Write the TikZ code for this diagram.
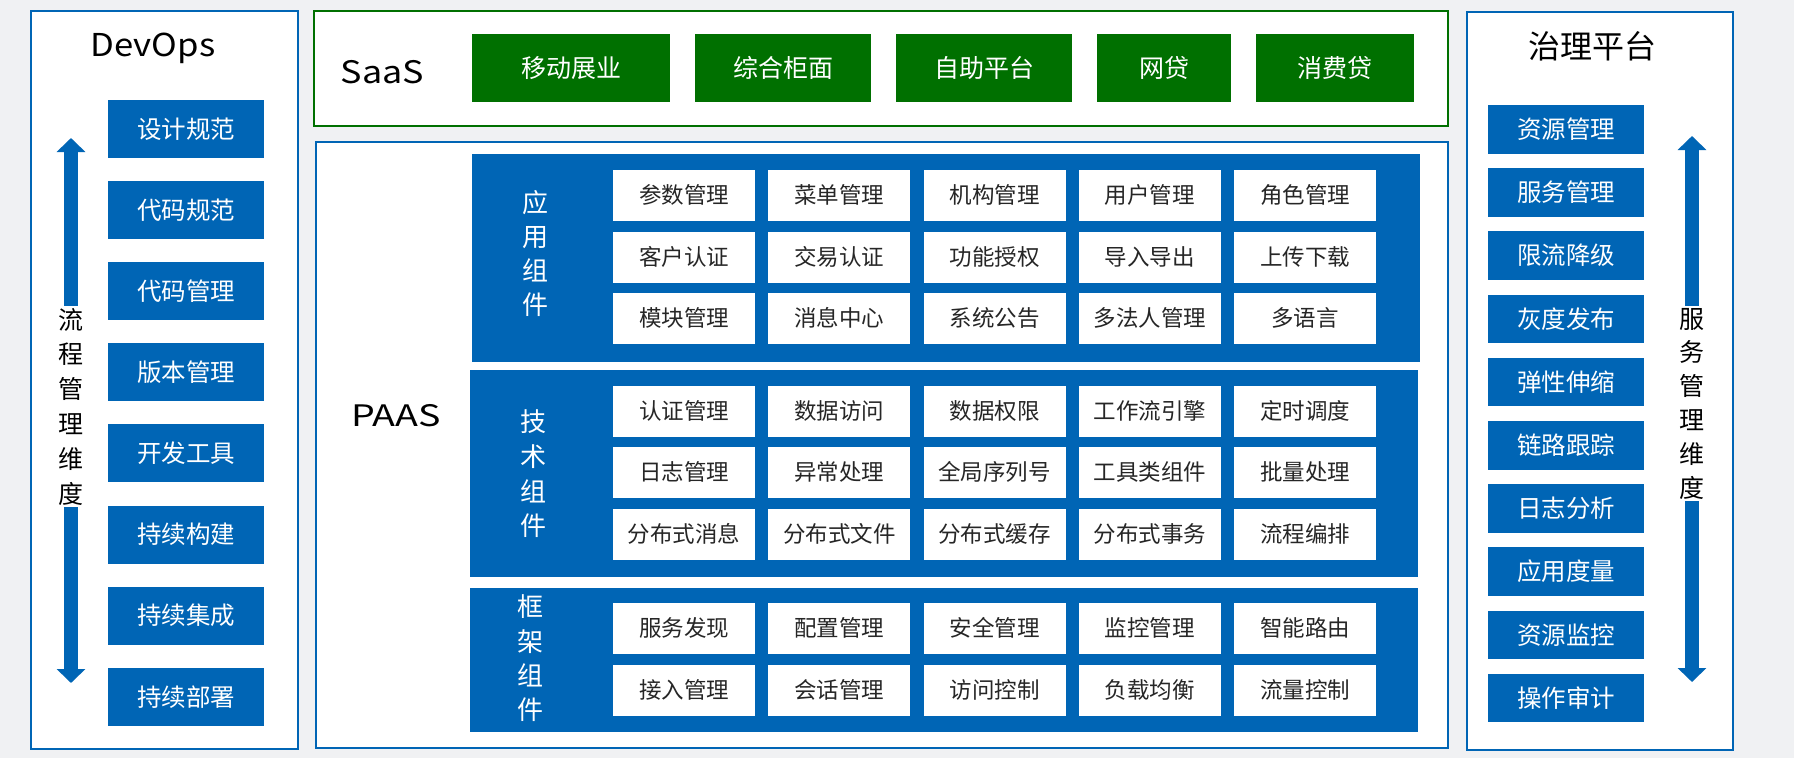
\documentclass[tikz,border=0pt]{standalone}
\usepackage{fontspec}
\newfontfamily\cjk{Noto Sans CJK SC}
\usetikzlibrary{arrows.meta,chains,positioning}
\definecolor{pblue}{RGB}{0,101,181}
\definecolor{sgreen}{RGB}{0,112,0}
\definecolor{bggray}{RGB}{240,241,243}
\newcommand\widetext[2]{\scalebox{#1}[1]{#2}}

\begin{document}
\begin{tikzpicture}[x=1pt, y=-1pt,
node distance=0pt,
    every node/.style = {font=\cjk},
    P/.style = {rectangle, draw=pblue, line width=2.7pt, fill=white,% outer panels
                outer sep=0pt, inner sep=0pt},
    S/.style = {rectangle, fill=pblue, inner sep=0pt, outer sep=0pt},% blue layers
    B/.style = {rectangle, fill=pblue, text=white, inner sep=0pt,% blue boxes in string (chain)
                minimum width=156pt, outer sep=0pt, anchor=north,
                font=\cjk\fontsize{24.5}{24.5}\selectfont, on chain},
    G/.style = {rectangle, fill=sgreen, text=white, inner sep=0pt,% green boxes in string (chain)
                minimum height=68pt, outer sep=0pt, anchor=west,
                font=\cjk\fontsize{25}{25}\selectfont, on chain},
    C/.style = {rectangle, fill=white, text=black!85, inner sep=0pt,% white cells in string (chain)
                minimum width=142pt, minimum height=51pt, outer sep=0pt, anchor=west,
                font=\cjk\fontsize{22.5}{22.5}\selectfont, on chain},
    T/.style = {font=\cjk\fontsize{31}{31}\selectfont, anchor=base},
    V/.style = {align=center, inner sep=2pt},
    AR/.style = {draw=pblue, line width=13.4pt, -{Triangle[width=28pt,length=14pt]}},
                        ]
\useasboundingbox[fill=bggray] (0,0) rectangle (1794,758);
% panels
\node[P, minimum width=267pt, minimum height=738pt] (devops) at (164.5,380) {};
\node[P, draw=sgreen, minimum width=1134pt, minimum height=115pt] (saas) at (881,68.5) {};
\node[P, minimum width=1132pt, minimum height=606pt] (paas) at (882,445) {};
\node[P, minimum width=266pt, minimum height=738pt] (gov) at (1600,381) {};
% titles
\node[T, font=\cjk\fontsize{31.5}{31.5}\selectfont] (tdev) at (153,56.7) {\widetext{1.1}{DevOps}};
\node[T] (tsaas) at (382.5,83) {\widetext{1.16}{SaaS}};
\node[T, font=\cjk\fontsize{29.6}{29.6}\selectfont] (tpaas) at (396,426.7) {\widetext{1.27}{PAAS}};
\node[font=\cjk\fontsize{32}{32}\selectfont] (tgov) at (1592,46) {治理平台};
% DevOps
\begin{scope}[start chain=D going below, node distance=23.1pt, shift={(186,100)}]
\foreach \i in {设计规范,代码规范,代码管理,版本管理,开发工具,持续构建,持续集成,持续部署}% <-- content of nodes
    \node[B, minimum height=58pt] {\i};
\end{scope}
\node[V, font=\cjk\fontsize{25}{34.8}\selectfont] (lflow) at (71,406.5) {流\\程\\管\\理\\维\\度};
\coordinate (lup) at (71,138);
\coordinate (ldown) at (71,683);
\draw[AR] (lflow) -- (lup);
\draw[AR] (lflow) -- (ldown);
% governance
\begin{scope}[start chain=R going below, node distance=14.7pt, shift={(1566,105)}]
\foreach \i in {资源管理,服务管理,限流降级,灰度发布,弹性伸缩,链路跟踪,日志分析,应用度量,资源监控,操作审计}% <-- content of nodes
    \node[B, minimum height=48.5pt] {\i};
\end{scope}
\node[V, font=\cjk\fontsize{25}{33.8}\selectfont] (rflow) at (1692,403.5) {服\\务\\管\\理\\维\\度};
\coordinate (rup) at (1692,136);
\coordinate (rdown) at (1692,682);
\draw[AR] (rflow) -- (rup);
\draw[AR] (rflow) -- (rdown);
% SaaS
\begin{scope}[start chain=A going right, node distance=25pt, shift={(472,68)}]
\foreach \w/\i in {198/移动展业,176/综合柜面,176/自助平台,134/网贷,158/消费贷}% <-- content of nodes
    \node[G, minimum width=\w pt] {\i};
\end{scope}
% PAAS layers
\node[S, minimum width=948pt, minimum height=208pt] (app) at (946,258) {};
\node[S, minimum width=948pt, minimum height=207pt] (tech) at (944,473.5) {};
\node[S, minimum width=948pt, minimum height=144pt] (frame) at (944,660) {};
\node[V, text=white, font=\cjk\fontsize{26}{34.3}\selectfont] (lapp) at (535,253.5) {应\\用\\组\\件};
\node[V, text=white, font=\cjk\fontsize{26}{34.7}\selectfont] (ltech) at (533,474) {技\\术\\组\\件};
\node[V, text=white, font=\cjk\fontsize{26}{34.3}\selectfont] (lframe) at (530,658.5) {框\\架\\组\\件};
\begin{scope}[start chain=a1 going right, node distance=13.25pt, shift={(613,195)}]
\foreach \i in {参数管理,菜单管理,机构管理,用户管理,角色管理}% <-- content of nodes
    \node[C] {\i};
\end{scope}
\begin{scope}[start chain=a2 going right, node distance=13.25pt, shift={(613,257)}]
\foreach \i in {客户认证,交易认证,功能授权,导入导出,上传下载}
    \node[C] {\i};
\end{scope}
\begin{scope}[start chain=a3 going right, node distance=13.25pt, shift={(613,318)}]
\foreach \i in {模块管理,消息中心,系统公告,多法人管理,多语言}
    \node[C] {\i};
\end{scope}
\begin{scope}[start chain=t1 going right, node distance=13.25pt, shift={(613,411)}]
\foreach \i in {认证管理,数据访问,数据权限,工作流引擎,定时调度}
    \node[C] {\i};
\end{scope}
\begin{scope}[start chain=t2 going right, node distance=13.25pt, shift={(613,472)}]
\foreach \i in {日志管理,异常处理,全局序列号,工具类组件,批量处理}
    \node[C] {\i};
\end{scope}
\begin{scope}[start chain=t3 going right, node distance=13.25pt, shift={(613,534)}]
\foreach \i in {分布式消息,分布式文件,分布式缓存,分布式事务,流程编排}
    \node[C] {\i};
\end{scope}
\begin{scope}[start chain=f1 going right, node distance=13.25pt, shift={(613,628)}]
\foreach \i in {服务发现,配置管理,安全管理,监控管理,智能路由}
    \node[C] {\i};
\end{scope}
\begin{scope}[start chain=f2 going right, node distance=13.25pt, shift={(613,690)}]
\foreach \i in {接入管理,会话管理,访问控制,负载均衡,流量控制}
    \node[C] {\i};
\end{scope}
\end{tikzpicture}
\end{document}
